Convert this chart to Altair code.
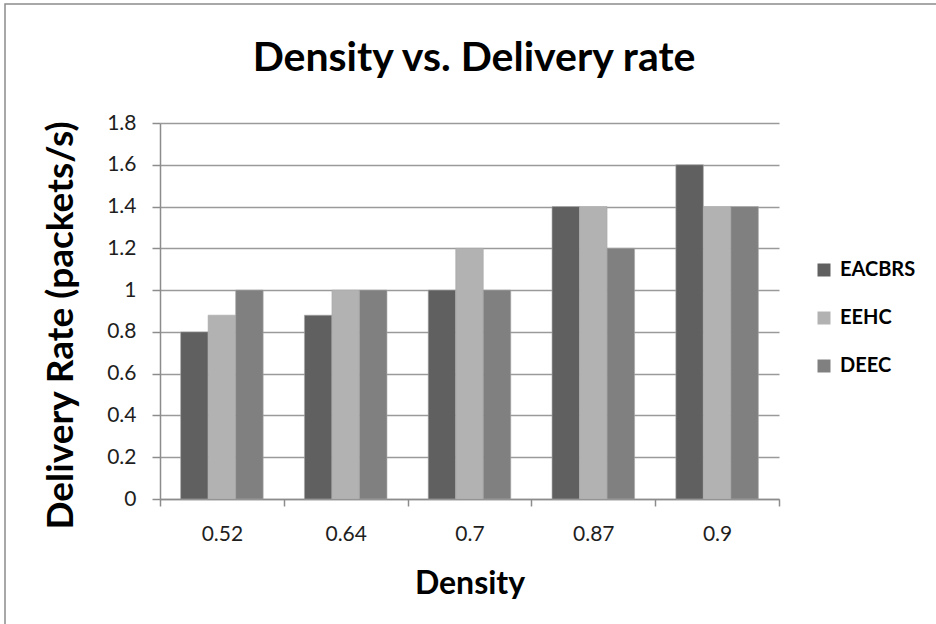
import altair as alt
import pandas as pd

# Density levels on the x axis and delivery rate per protocol
densities = ["0.52", "0.64", "0.7", "0.87", "0.9"]
protocols = ["EACBRS", "EEHC", "DEEC"]
eacbrs = [0.8, 0.88, 1.0, 1.4, 1.6]
eehc = [0.88, 1.0, 1.2, 1.4, 1.4]
deec = [1.0, 1.0, 1.0, 1.2, 1.4]
colors = ["#606060", "#b2b2b2", "#808080"]
chart_title = "Density vs. Delivery rate"

rows = []
for series_name, values in zip(protocols, [eacbrs, eehc, deec]):
    for d, v in zip(densities, values):
        rows.append({"Density": d, "Protocol": series_name, "Rate": v})
df = pd.DataFrame(rows)

FONT = "Lato"

bars = alt.Chart(df).mark_bar(stroke="#a8a8a8", strokeWidth=0.6).encode(
    x=alt.X(
        "Density:N",
        sort=densities,
        scale=alt.Scale(paddingInner=0, paddingOuter=0),
        axis=alt.Axis(
            title="Density",
            titleFont=FONT,
            titleFontSize=32,
            titleFontWeight="bold",
            titleColor="#000000",
            titlePadding=24,
            labelFont=FONT,
            labelFontSize=21,
            labelColor="#1e1e1e",
            labelAngle=0,
            labelPadding=17,
            tickBand="extent",
            tickSize=7,
            tickColor="#8c8c8c",
            tickWidth=1.5,
            domainColor="#8c8c8c",
            domainWidth=1.5,
            grid=False,
        ),
    ),
    xOffset=alt.XOffset(
        "Protocol:N",
        sort=protocols,
        scale=alt.Scale(paddingInner=0, paddingOuter=0.75),
    ),
    y=alt.Y(
        "Rate:Q",
        scale=alt.Scale(domain=[0, 1.8], nice=False),
        axis=alt.Axis(
            title="Delivery Rate (packets/s)",
            titleFont=FONT,
            titleFontSize=37,
            titleFontWeight="bold",
            titleColor="#000000",
            titleX=-80,
            titleY=202,
            values=[0, 0.2, 0.4, 0.6, 0.8, 1.0, 1.2, 1.4, 1.6, 1.8],
            labelExpr="format(datum.value, '.1~f')",
            labelFont=FONT,
            labelFontSize=21,
            labelColor="#1e1e1e",
            labelPadding=16,
            tickSize=8,
            tickColor="#8c8c8c",
            tickWidth=1.5,
            domainColor="#8c8c8c",
            domainWidth=1.5,
            grid=True,
            gridColor="#9a9a9a",
            gridWidth=1.5,
        ),
    ),
    color=alt.Color(
        "Protocol:N",
        sort=protocols,
        scale=alt.Scale(domain=protocols, range=colors),
        legend=alt.Legend(
            title=None,
            orient="none",
            legendX=654,
            legendY=137,
            symbolType="square",
            symbolSize=169,
            symbolStrokeWidth=0,
            labelFont=FONT,
            labelFontSize=20,
            labelFontWeight="bold",
            labelColor="#000000",
            labelOffset=6,
            rowPadding=28,
        ),
    ),
)

# Thin grey frame around the whole figure
frame = alt.Chart(pd.DataFrame({"k": [0]})).mark_rect(
    filled=False, stroke="#8c8c8c", strokeWidth=1.5, clip=False
).encode(
    x=alt.value(-155), x2=alt.value(800), y=alt.value(-119), y2=alt.value(520)
)

# Chart heading
heading = alt.Chart(pd.DataFrame({"t": [chart_title]})).mark_text(
    font=FONT, fontSize=41, fontWeight="bold", color="#000000",
    align="center", baseline="alphabetic",
).encode(x=alt.value(314), y=alt.value(-52), text="t:N")

chart = alt.layer(frame, bars, heading).properties(
    width=619,
    height=376,
    padding={"left": 160, "top": 123, "right": 157, "bottom": 125},
    autosize=alt.AutoSizeParams(type="none"),
    background="#ffffff",
).configure_view(stroke=None)

chart.save("out.html", embed_options={"renderer": "svg", "actions": False})
